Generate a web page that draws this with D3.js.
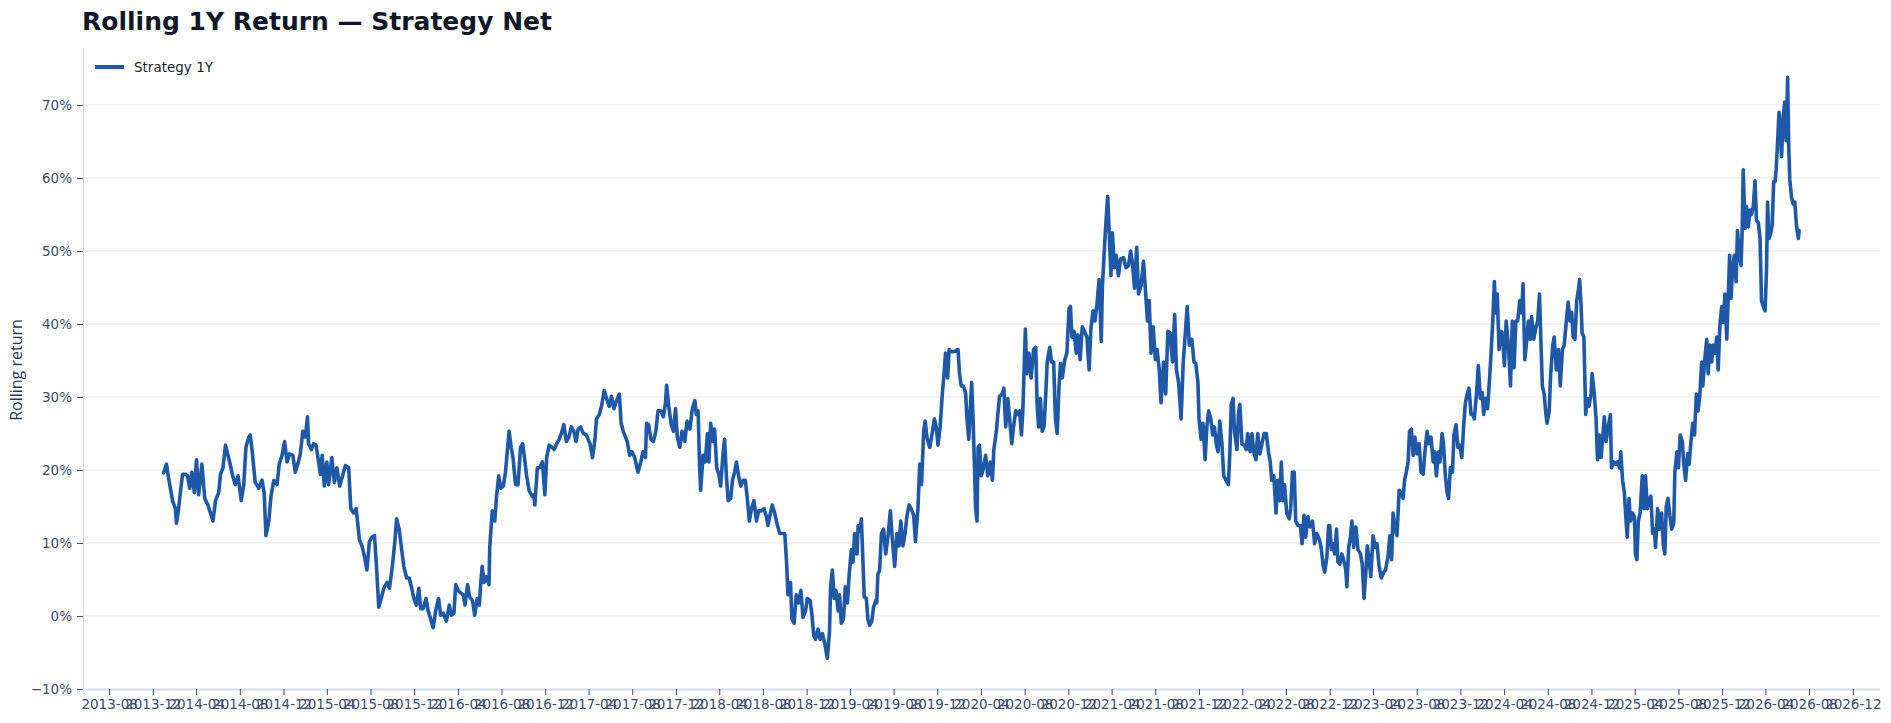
<!DOCTYPE html>
<html>
<head>
<meta charset="utf-8">
<script src="https://cdn.jsdelivr.net/npm/d3@7"></script>
<style>
  body { margin: 0; background: #fff; }
  svg { display: block; font-family: "DejaVu Sans", sans-serif; }
</style>
</head>
<body>
<svg id="chart" width="1891" height="723"></svg>
<script>
// ---- data ----
const chartTitle = "Rolling 1Y Return \u2014 Strategy Net";
const yAxisTitle = "Rolling return";
const seriesName = "Strategy 1Y";
const yTicks = [-10, 0, 10, 20, 30, 40, 50, 60, 70];
const xTickFirst = "2013-08-01";
const xTickLast = "2026-12-01";
const xTickStepMonths = 4;

// rolling 1Y return, percent
const strategy1Y = [
  ["2013-12-31",19.6],["2014-01-08",20.8],["2014-01-14",18.9],["2014-01-19",17.5],["2014-01-25",15.8],
  ["2014-02-02",14.7],["2014-02-05",12.7],["2014-02-11",14.7],["2014-02-16",16.9],["2014-02-22",19.4],
  ["2014-03-02",19.4],["2014-03-08",19.2],["2014-03-14",17.5],["2014-03-20",19.7],["2014-03-27",16.9],
  ["2014-04-02",21.4],["2014-04-08",16.6],["2014-04-17",20.8],["2014-04-25",16.1],["2014-05-04",15.2],
  ["2014-05-11",14.1],["2014-05-18",13.0],["2014-05-25",15.8],["2014-06-03",16.9],["2014-06-08",19.4],
  ["2014-06-15",20.3],["2014-06-22",23.4],["2014-06-28",22.2],["2014-07-05",20.8],["2014-07-12",19.2],
  ["2014-07-19",18.0],["2014-07-27",19.2],["2014-08-05",15.8],["2014-08-12",18.0],["2014-08-18",23.1],
  ["2014-08-26",24.5],["2014-08-30",24.8],["2014-09-04",22.8],["2014-09-13",18.3],["2014-09-23",17.5],
  ["2014-10-02",18.6],["2014-10-08",16.9],["2014-10-13",11.0],["2014-10-21",13.0],["2014-10-27",16.4],
  ["2014-11-04",18.6],["2014-11-13",18.0],["2014-11-19",20.8],["2014-11-27",22.0],["2014-12-04",23.9],
  ["2014-12-11",21.1],["2014-12-18",22.2],["2014-12-27",22.0],["2015-01-03",19.7],["2015-01-10",20.8],
  ["2015-01-17",22.2],["2015-01-24",25.3],["2015-01-31",24.5],["2015-02-06",27.3],["2015-02-09",23.6],
  ["2015-02-17",22.8],["2015-02-23",23.6],["2015-03-02",23.4],["2015-03-09",21.1],["2015-03-14",19.4],
  ["2015-03-19",22.0],["2015-03-25",17.8],["2015-04-01",21.1],["2015-04-06",18.0],["2015-04-15",21.7],
  ["2015-04-22",18.3],["2015-04-29",20.3],["2015-05-07",17.8],["2015-05-15",19.2],["2015-05-23",20.6],
  ["2015-06-01",20.3],["2015-06-07",14.7],["2015-06-15",14.1],["2015-06-22",14.7],["2015-07-01",10.5],
  ["2015-07-08",9.6],["2015-07-15",8.2],["2015-07-22",6.3],["2015-07-29",10.2],["2015-08-05",10.8],
  ["2015-08-12",11.0],["2015-08-17",7.4],["2015-08-24",1.2],["2015-08-31",2.4],["2015-09-07",3.8],
  ["2015-09-16",4.6],["2015-09-23",3.8],
  ["2015-10-01",6.8],["2015-10-08",10.2],["2015-10-13",13.3],["2015-10-20",11.9],["2015-10-27",9.1],
  ["2015-11-02",6.8],["2015-11-10",5.2],["2015-11-17",5.2],["2015-11-24",3.8],["2015-11-30",2.4],
  ["2015-12-07",1.5],["2015-12-14",3.8],["2015-12-19",1.0],["2015-12-26",1.0],["2016-01-03",2.4],
  ["2016-01-09",0.7],["2016-01-16",-0.4],["2016-01-23",-1.6],["2016-01-30",0.7],["2016-02-07",2.4],
  ["2016-02-13",0.1],["2016-02-20",0.4],["2016-02-29",-0.7],["2016-03-08",1.5],["2016-03-14",0.1],
  ["2016-03-21",0.4],["2016-03-26",4.3],["2016-04-02",3.5],["2016-04-08",3.2],["2016-04-16",2.9],
  ["2016-04-21",1.5],["2016-04-28",4.3],["2016-05-04",2.6],["2016-05-12",2.1],["2016-05-18",0.1],
  ["2016-05-25",2.4],["2016-05-31",1.5],["2016-06-04",4.6],["2016-06-08",6.8],["2016-06-13",4.6],
  ["2016-06-20",5.4],["2016-06-27",4.3],["2016-06-29",9.4],["2016-07-06",14.4],["2016-07-13",13.0],
  ["2016-07-18",16.4],["2016-07-24",19.2],["2016-07-30",17.5],["2016-08-06",17.8],["2016-08-12",19.7],
  ["2016-08-17",22.5],["2016-08-22",25.3],["2016-08-28",23.1],["2016-09-02",21.7],["2016-09-09",18.0],
  ["2016-09-16",18.0],["2016-09-23",23.1],["2016-09-29",23.6],["2016-10-04",21.7],["2016-10-10",19.2],
  ["2016-10-17",17.2],["2016-10-25",16.4],["2016-10-30",16.6],["2016-11-02",15.2],["2016-11-09",20.3],
  ["2016-11-16",20.3],["2016-11-23",21.1],["2016-11-30",16.6],["2016-12-05",21.7],["2016-12-12",23.4],
  ["2016-12-20",23.1],["2016-12-26",22.8],["2017-01-02",23.6],["2017-01-09",24.2],["2017-01-15",25.0],
  ["2017-01-22",26.2],["2017-01-29",23.9],["2017-02-05",24.5],["2017-02-12",25.9],["2017-02-19",25.3],
  ["2017-02-25",23.9],["2017-03-03",25.6],["2017-03-10",25.9],["2017-03-17",25.0],["2017-03-26",24.8],
  ["2017-04-05",23.6],["2017-04-12",21.7],["2017-04-19",24.2],["2017-04-23",27.0],["2017-05-01",27.6],
  ["2017-05-07",28.7],["2017-05-15",30.9],["2017-05-21",29.8],["2017-05-29",28.7],["2017-06-04",30.1],
  ["2017-06-11",28.4],["2017-06-18",29.5],["2017-06-26",30.4],["2017-07-01",26.4],["2017-07-07",25.3],
  ["2017-07-18",23.9],["2017-07-25",22.0],["2017-07-31",22.5],["2017-08-08",21.7],["2017-08-17",19.7],
  ["2017-08-25",21.1],["2017-08-31",22.5],["2017-09-07",21.7],["2017-09-10",26.4],["2017-09-16",26.2],
  ["2017-09-22",24.2],["2017-09-29",23.9],["2017-10-06",25.3],["2017-10-12",28.1],["2017-10-20",28.1],
  ["2017-10-27",27.3],["2017-11-02",29.2],["2017-11-05",31.6],["2017-11-11",28.7],["2017-11-18",26.2],
  ["2017-11-24",25.3],["2017-11-30",28.4],["2017-12-05",24.5],["2017-12-12",23.1],["2017-12-18",25.3],
  ["2017-12-26",23.9],["2018-01-01",26.7],["2018-01-09",25.6],["2018-01-16",28.4],["2018-01-23",29.5],
  ["2018-01-27",27.6],["2018-02-01",28.1],["2018-02-05",20.8],["2018-02-08",17.2],["2018-02-15",22.0],
  ["2018-02-21",21.1],["2018-02-27",25.0],["2018-03-03",21.1],["2018-03-08",26.4],["2018-03-15",23.9],
  ["2018-03-19",25.6],["2018-03-25",20.3],["2018-03-31",19.4],["2018-04-05",17.8],["2018-04-12",22.5],
  ["2018-04-16",24.2],["2018-04-21",19.2],["2018-04-26",15.8],["2018-05-03",16.1],["2018-05-08",18.6],
  ["2018-05-14",19.7],["2018-05-19",21.1],["2018-05-25",19.2],["2018-05-31",17.8],["2018-06-07",18.6],
  ["2018-06-13",18.6],["2018-06-19",15.8],["2018-06-24",13.0],["2018-06-30",14.7],["2018-07-07",15.8],
  ["2018-07-14",13.0],["2018-07-20",14.4],["2018-07-28",14.4],["2018-08-04",14.7],["2018-08-11",13.6],
  ["2018-08-15",12.4],["2018-08-22",14.1],["2018-08-27",15.2],["2018-09-03",14.1],["2018-09-09",12.7],
  ["2018-09-17",11.3],["2018-09-24",11.3],["2018-10-01",11.3],["2018-10-06",7.4],["2018-10-10",2.9],
  ["2018-10-17",4.6],["2018-10-21",-0.4],["2018-10-27",-1.0],["2018-11-02",2.9],["2018-11-09",1.8],
  ["2018-11-15",3.5],["2018-11-21",-0.2],["2018-11-28",0.7],["2018-12-03",2.4],["2018-12-11",2.1],
  ["2018-12-16",0.1],["2018-12-21",-2.7],["2018-12-26",-3.2],["2019-01-02",-1.8],["2019-01-08",-3.2],
  ["2019-01-14",-2.4],["2019-01-21",-3.8],["2019-01-28",-5.8],["2019-02-03",-2.1],["2019-02-06",4.0],
  ["2019-02-11",6.3],["2019-02-16",2.4],["2019-02-21",3.5],["2019-02-27",0.7],["2019-03-03",2.9],
  ["2019-03-08",-1.0],["2019-03-14",-0.4],["2019-03-19",4.0],["2019-03-25",1.8],["2019-03-30",5.7],
  ["2019-04-05",9.1],["2019-04-10",7.4],["2019-04-14",11.3],["2019-04-21",8.5],["2019-04-24",12.4],
  ["2019-04-29",11.6],["2019-05-03",13.3],
  ["2019-05-07",8.0],["2019-05-11",2.6],["2019-05-17",2.4],["2019-05-21",-0.4],["2019-05-26",-1.3],
  ["2019-06-01",-0.7],["2019-06-06",1.2],["2019-06-12",2.1],["2019-06-15",1.8],["2019-06-18",5.7],
  ["2019-06-23",6.3],["2019-06-28",11.3],["2019-07-04",11.9],["2019-07-10",8.5],["2019-07-16",10.8],
  ["2019-07-23",14.4],["2019-07-28",10.8],["2019-08-04",6.8],["2019-08-10",11.3],["2019-08-16",9.6],
  ["2019-08-21",13.0],["2019-08-27",9.6],["2019-09-02",11.3],["2019-09-07",13.6],["2019-09-13",15.2],
  ["2019-09-19",14.7],["2019-09-26",13.8],["2019-10-01",10.2],["2019-10-08",14.7],["2019-10-13",20.8],
  ["2019-10-18",18.0],["2019-10-24",25.3],["2019-10-28",26.7],["2019-11-03",24.2],["2019-11-10",23.1],
  ["2019-11-16",24.8],["2019-11-23",27.0],["2019-11-28",25.9],["2019-12-03",23.4],["2019-12-09",25.9],
  ["2019-12-15",30.4],["2019-12-20",33.2],["2019-12-24",36.0],["2019-12-30",32.6],["2020-01-03",36.5],
  ["2020-01-09",36.2],["2020-01-16",36.2],["2020-01-23",36.4],["2020-01-28",36.5],["2020-02-01",33.2],
  ["2020-02-06",31.5],["2020-02-12",31.5],["2020-02-18",30.6],["2020-02-22",27.0],["2020-02-27",24.2],
  ["2020-03-03",29.2],["2020-03-06",32.0],["2020-03-10",27.0],["2020-03-14",20.3],["2020-03-17",14.7],
  ["2020-03-21",13.0],["2020-03-24",23.1],["2020-03-28",23.4],["2020-04-02",19.2],["2020-04-08",20.3],
  ["2020-04-14",22.0],["2020-04-20",19.2],["2020-04-27",21.1],["2020-05-03",18.6],["2020-05-07",22.8],
  ["2020-05-14",25.3],["2020-05-18",27.6],["2020-05-23",30.1],["2020-05-30",30.4],["2020-06-04",31.2],
  ["2020-06-09",25.9],["2020-06-15",29.8],["2020-06-20",27.0],["2020-06-26",23.6],["2020-07-01",25.9],
  ["2020-07-07",28.1],["2020-07-12",27.6],["2020-07-18",28.1],["2020-07-23",24.8],["2020-07-27",28.1],
  ["2020-08-03",39.3],["2020-08-07",33.2],["2020-08-13",36.0],["2020-08-19",32.6],["2020-08-26",36.5],
  ["2020-09-01",36.8],["2020-09-05",28.7],["2020-09-09",25.9],["2020-09-14",29.8],["2020-09-19",25.3],
  ["2020-09-24",25.9],["2020-09-29",30.4],["2020-10-03",34.8],["2020-10-10",36.8],["2020-10-15",34.8],
  ["2020-10-21",34.8],["2020-10-26",27.0],["2020-10-31",25.0],["2020-11-05",31.5],["2020-11-09",34.6],
  ["2020-11-14",32.6],["2020-11-21",35.1],["2020-11-27",36.0],["2020-12-03",42.1],["2020-12-07",42.4],
  ["2020-12-11",38.2],["2020-12-17",39.0],["2020-12-23",36.0],["2020-12-28",38.5],["2021-01-03",35.1],
  ["2021-01-09",39.6],["2021-01-15",39.0],["2021-01-22",38.2],["2021-01-28",33.7],["2021-02-02",39.3],
  ["2021-02-08",41.8],["2021-02-13",40.4],["2021-02-19",42.7],
  ["2021-02-25",46.1],["2021-03-03",37.6],["2021-03-06",44.9],["2021-03-12",50.5],["2021-03-16",53.9],
  ["2021-03-21",57.5],["2021-03-25",52.8],["2021-03-30",46.6],["2021-04-03",52.5],["2021-04-09",47.7],
  ["2021-04-14",49.4],["2021-04-20",46.6],["2021-04-26",48.9],["2021-05-04",49.1],["2021-05-11",47.7],
  ["2021-05-18",48.0],["2021-05-24",50.0],["2021-05-29",48.3],["2021-06-04",44.9],["2021-06-10",50.5],
  ["2021-06-15",44.1],["2021-06-22",45.2],["2021-06-29",48.6],["2021-07-04",44.9],["2021-07-10",40.4],
  ["2021-07-15",43.2],["2021-07-20",36.0],["2021-07-26",39.6],["2021-08-01",35.1],["2021-08-06",36.5],
  ["2021-08-12",33.7],["2021-08-17",29.2],["2021-08-24",34.8],["2021-08-30",30.4],["2021-09-05",39.0],
  ["2021-09-11",38.8],["2021-09-18",34.8],["2021-09-24",41.3],["2021-09-29",33.7],["2021-10-05",32.0],
  ["2021-10-12",27.0],["2021-10-18",34.8],["2021-10-23",38.2],["2021-10-29",42.4],["2021-11-04",37.1],
  ["2021-11-11",37.9],["2021-11-17",34.8],["2021-11-22",34.6],["2021-11-28",32.0],["2021-12-01",27.0],
  ["2021-12-07",24.2],["2021-12-12",26.4],["2021-12-18",21.4],["2021-12-23",25.9],["2021-12-28",28.1],
  ["2022-01-03",27.0],["2022-01-08",24.8],["2022-01-13",25.9],["2022-01-18",23.6],["2022-01-23",22.5],
  ["2022-01-28",26.7],["2022-02-03",23.6],["2022-02-08",19.2],["2022-02-14",18.6],["2022-02-21",18.0],
  ["2022-02-25",22.2],["2022-03-01",29.0],["2022-03-06",29.8],["2022-03-10",25.3],["2022-03-17",22.8],
  ["2022-03-21",27.6],["2022-03-25",29.0],["2022-03-31",23.6],["2022-04-06",23.4],["2022-04-12",22.8],
  ["2022-04-16",25.0],["2022-04-23",22.5],["2022-04-28",25.0],["2022-05-03",22.5],["2022-05-09",21.4],
  ["2022-05-14",25.0],["2022-05-20",22.2],["2022-05-26",23.6],["2022-06-01",25.0],["2022-06-07",25.0],
  ["2022-06-13",22.5],["2022-06-18",21.1],["2022-06-22",18.6],["2022-06-28",19.2],["2022-07-04",14.1],
  ["2022-07-09",18.6],["2022-07-14",15.8],["2022-07-19",21.1],["2022-07-23",15.8],["2022-07-28",18.0],
  ["2022-08-03",14.1],["2022-08-10",13.3],["2022-08-14",14.7],["2022-08-19",19.7],["2022-08-24",19.7],
  ["2022-08-28",13.0],["2022-09-03",12.4],["2022-09-10",12.4],["2022-09-15",9.9],["2022-09-20",13.8],
  ["2022-09-25",10.8],["2022-10-01",13.6],["2022-10-07",12.2],["2022-10-14",13.0],["2022-10-20",9.9],
  ["2022-10-26",11.3],["2022-11-02",10.5],["2022-11-07",9.4],["2022-11-13",6.8],["2022-11-17",6.0],
  ["2022-11-23",8.0],["2022-11-28",12.4],
  ["2022-12-01",12.4],["2022-12-06",9.1],["2022-12-10",9.9],["2022-12-15",8.5],["2022-12-20",11.9],
  ["2022-12-24",7.4],["2022-12-29",7.1],["2023-01-04",8.5],["2023-01-09",7.7],["2023-01-15",6.3],
  ["2023-01-18",4.0],["2023-01-23",9.4],["2023-01-28",10.8],["2023-02-01",13.0],["2023-02-06",9.4],
  ["2023-02-12",12.2],["2023-02-18",9.1],["2023-02-25",8.5],["2023-03-02",7.1],["2023-03-07",2.4],
  ["2023-03-12",6.0],["2023-03-16",9.6],["2023-03-21",7.7],["2023-03-26",5.4],["2023-04-01",11.0],
  ["2023-04-07",9.4],["2023-04-12",9.9],["2023-04-18",6.8],["2023-04-24",5.2],["2023-05-01",6.0],
  ["2023-05-06",6.3],["2023-05-13",8.2],["2023-05-18",11.0],["2023-05-23",7.7],["2023-05-27",14.1],
  ["2023-06-01",12.2],["2023-06-07",11.0],["2023-06-13",17.2],["2023-06-18",16.9],["2023-06-24",16.1],
  ["2023-06-28",18.6],["2023-07-03",19.7],["2023-07-08",21.1],["2023-07-12",25.3],["2023-07-17",25.6],
  ["2023-07-22",22.0],["2023-07-27",24.5],["2023-08-02",22.2],["2023-08-08",23.6],["2023-08-13",19.7],
  ["2023-08-19",19.4],["2023-08-24",22.5],["2023-08-30",25.3],["2023-09-04",23.6],["2023-09-10",24.5],
  ["2023-09-16",21.1],["2023-09-20",22.5],["2023-09-25",19.2],["2023-10-01",22.5],["2023-10-05",21.1],
  ["2023-10-11",25.0],["2023-10-15",23.6],["2023-10-20",19.2],["2023-10-25",16.9],["2023-10-29",16.1],
  ["2023-11-03",20.3],["2023-11-09",19.7],["2023-11-13",24.8],["2023-11-19",26.2],["2023-11-24",23.1],
  ["2023-11-29",23.4],["2023-12-05",21.7],["2023-12-10",25.9],["2023-12-15",29.2],["2023-12-20",30.4],
  ["2023-12-25",31.2],["2023-12-31",27.6],["2024-01-05",27.6],["2024-01-09",27.0],["2024-01-15",30.4],
  ["2024-01-20",34.3],["2024-01-26",29.8],["2024-01-31",30.6],["2024-02-04",27.6],["2024-02-10",29.8],
  ["2024-02-15",28.4],["2024-02-21",32.9],["2024-02-26",37.1],["2024-03-01",41.0],["2024-03-05",45.8],
  ["2024-03-09",41.5],["2024-03-13",44.1],["2024-03-18",36.5],["2024-03-23",39.0],["2024-03-27",38.8],
  ["2024-04-02",34.3],["2024-04-07",40.4],["2024-04-13",37.1],["2024-04-19",31.5],["2024-04-24",40.4],
  ["2024-04-29",34.0],["2024-05-04",40.4],["2024-05-09",40.4],["2024-05-15",43.2],["2024-05-20",41.5],
  ["2024-05-24",45.5],["2024-05-29",35.1],["2024-06-02",37.1],["2024-06-08",40.4],["2024-06-13",37.9],
  ["2024-06-17",41.0],["2024-06-23",37.9],["2024-06-28",39.3],["2024-07-04",40.4],["2024-07-09",44.1],
  ["2024-07-13",37.6],["2024-07-17",31.5],["2024-07-22",30.4],["2024-07-26",28.1],["2024-07-30",26.4],
  ["2024-08-05",28.1],["2024-08-09",32.9],["2024-08-15",37.1],["2024-08-19",38.2],["2024-08-25",33.7],
  ["2024-08-31",36.5],["2024-09-05",31.5],["2024-09-11",36.5],["2024-09-16",37.1],
  ["2024-09-23",41.0],["2024-09-27",43.0],["2024-10-02",40.4],["2024-10-07",41.6],["2024-10-11",38.2],
  ["2024-10-16",37.9],["2024-10-21",43.2],["2024-10-25",44.4],["2024-10-29",46.1],["2024-11-02",42.7],
  ["2024-11-05",38.8],["2024-11-10",38.2],["2024-11-15",27.6],["2024-11-19",29.8],["2024-11-24",28.7],
  ["2024-11-30",30.4],["2024-12-03",33.2],["2024-12-09",30.4],["2024-12-14",27.0],["2024-12-18",21.4],
  ["2024-12-23",24.8],["2024-12-28",21.7],["2025-01-01",24.2],["2025-01-06",27.3],["2025-01-11",23.9],
  ["2025-01-17",25.9],["2025-01-23",27.6],["2025-01-26",20.3],["2025-02-01",21.1],["2025-02-07",20.8],
  ["2025-02-12",21.1],["2025-02-18",20.3],["2025-02-21",22.5],["2025-02-26",18.6],["2025-03-03",16.9],
  ["2025-03-07",13.6],["2025-03-11",10.8],["2025-03-16",16.1],["2025-03-20",13.0],["2025-03-26",14.1],
  ["2025-03-31",13.6],["2025-04-03",8.5],["2025-04-07",7.7],["2025-04-11",13.0],["2025-04-16",14.1],
  ["2025-04-22",19.2],["2025-04-27",14.7],["2025-05-01",19.2],["2025-05-06",14.7],["2025-05-12",16.1],
  ["2025-05-16",16.4],["2025-05-21",11.3],["2025-05-26",11.9],["2025-05-29",9.4],["2025-06-04",14.7],
  ["2025-06-09",11.9],["2025-06-15",14.1],["2025-06-20",9.6],["2025-06-24",8.5],["2025-06-28",15.0],
  ["2025-07-03",16.1],["2025-07-08",13.8],["2025-07-13",11.9],["2025-07-19",12.7],["2025-07-22",19.7],
  ["2025-07-28",22.5],["2025-08-01",20.3],["2025-08-06",24.8],["2025-08-12",23.9],["2025-08-16",20.8],
  ["2025-08-21",18.6],["2025-08-27",22.2],["2025-08-31",20.8],["2025-09-05",23.9],["2025-09-10",26.4],
  ["2025-09-15",24.8],["2025-09-20",30.4],["2025-09-25",28.1],["2025-09-30",30.4],["2025-10-05",34.8],
  ["2025-10-08",31.5],["2025-10-13",34.8],["2025-10-19",37.9],["2025-10-23",33.2],["2025-10-28",37.1],
  ["2025-11-02",34.8],["2025-11-06",37.1],["2025-11-11",36.0],["2025-11-16",38.2],["2025-11-20",33.7],
  ["2025-11-25",39.9],["2025-11-30",42.4],["2025-12-04",40.2],["2025-12-09",44.1],["2025-12-14",37.9],
  ["2025-12-18",43.5],["2025-12-22",49.4],["2025-12-26",43.5],["2025-12-30",47.4],["2026-01-04",49.4],
  ["2026-01-09",45.8],["2026-01-13",52.8],["2026-01-18",49.4],["2026-01-23",48.0],["2026-01-26",52.8],
  ["2026-01-29",61.1],["2026-02-03",53.1],["2026-02-07",56.1],["2026-02-12",53.3],["2026-02-17",55.6],
  ["2026-02-21",55.0],["2026-02-26",56.1],["2026-03-03",59.6],["2026-03-07",54.2],["2026-03-12",53.9],
  ["2026-03-17",51.7],["2026-03-21",43.2],["2026-03-26",42.4],["2026-03-31",41.8],["2026-04-04",47.4],
  ["2026-04-07",56.7],["2026-04-11",51.7],["2026-04-15",52.2],["2026-04-20",53.6],["2026-04-24",59.5],
  ["2026-04-28",59.5],["2026-05-01",61.2],["2026-05-04",64.0],["2026-05-09",69.0],["2026-05-12",67.2],
  ["2026-05-16",62.9],["2026-05-21",68.5],["2026-05-25",70.4],["2026-05-29",65.1],["2026-06-02",73.8],
  ["2026-06-05",64.5],["2026-06-08",59.8],["2026-06-13",57.3],["2026-06-18",56.4],["2026-06-22",56.7],
  ["2026-06-27",53.3],["2026-07-02",51.7],["2026-07-04",52.8]
];

// ---- layout ----
const width = 1891, height = 723;
const plot = { left: 83, right: 1880, top: 48, bottom: 689 };
const parse = d3.timeParse("%Y-%m-%d");
const data = strategy1Y.map(([d, v]) => ({ date: parse(d), value: v }));

const svg = d3.select("#chart");
svg.append("rect").attr("width", width).attr("height", height).attr("fill", "#fff");

// x range is padded on both sides of the tick span
const xScale = d3.scaleTime()
    .domain([parse("2013-05-20"), parse("2027-02-15")])
    .range([plot.left, plot.right]);

const yScale = d3.scaleLinear()
    .domain([-10, 77.8])
    .range([plot.bottom, plot.top]);

const tickColor = "#3c4b68";
const xTicks = d3.timeMonth.range(parse(xTickFirst), d3.timeDay.offset(parse(xTickLast), 1), xTickStepMonths);

// gridlines
svg.append("g")
    .selectAll("line")
    .data(yTicks.filter(t => t > -10))
    .join("line")
    .attr("x1", plot.left).attr("x2", plot.right)
    .attr("y1", d => yScale(d)).attr("y2", d => yScale(d))
    .attr("stroke", "#e3e8f0")
    .attr("stroke-width", 1);

// y axis
const yAxisG = svg.append("g")
    .attr("transform", `translate(${plot.left},0)`)
    .call(d3.axisLeft(yScale).tickValues(yTicks).tickFormat(d => (d < 0 ? "\u2212" + Math.abs(d) : d) + "%").tickSize(6).tickPadding(5));
yAxisG.select(".domain").attr("stroke", "#d3dbe6").attr("stroke-width", 1.2).attr("d", `M0.5,${plot.top}V${plot.bottom}`);
yAxisG.selectAll(".tick line").attr("stroke", tickColor);
yAxisG.selectAll(".tick text").attr("fill", tickColor).style("font-size", "13.5px").style("font-family", "DejaVu Sans");

// x axis
const xAxisG = svg.append("g")
    .attr("transform", `translate(0,${plot.bottom})`)
    .call(d3.axisBottom(xScale).tickValues(xTicks).tickFormat(d3.timeFormat("%Y-%m")).tickSize(6).tickPadding(4));
xAxisG.select(".domain").attr("stroke", "#d3dbe6").attr("stroke-width", 2).attr("d", `M${plot.left},0.5H${plot.right}`);
xAxisG.selectAll(".tick line").attr("stroke", tickColor);
xAxisG.selectAll(".tick text").attr("fill", tickColor).style("font-size", "13.5px").style("font-family", "DejaVu Sans");

// series line
svg.append("path")
    .datum(data)
    .attr("fill", "none")
    .attr("stroke", "#1f58a6")
    .attr("stroke-width", 3.6)
    .attr("stroke-linejoin", "round")
    .attr("stroke-linecap", "round")
    .attr("d", d3.line().x(d => xScale(d.date)).y(d => yScale(d.value)));

// title
svg.append("text")
    .attr("x", 82).attr("y", 30)
    .attr("fill", "#0f1729")
    .style("font-size", "25px")
    .style("font-weight", "bold")
    .text(chartTitle);

// y-axis title
svg.append("text")
    .attr("transform", "translate(22,370) rotate(-90)")
    .attr("text-anchor", "middle")
    .attr("fill", "#2a3a55")
    .style("font-size", "16px")
    .style("font-family", "Open Sans")
    .text(yAxisTitle);

// legend
const legendG = svg.append("g").attr("transform", "translate(95,67)");
legendG.append("line")
    .attr("x1", 0).attr("x2", 29).attr("y1", 0).attr("y2", 0)
    .attr("stroke", "#1f58a6").attr("stroke-width", 4);
legendG.append("text")
    .attr("x", 39).attr("y", 5)
    .attr("fill", "#1a1f2e")
    .style("font-size", "13.5px")
    .text(seriesName);
</script>
</body>
</html>
